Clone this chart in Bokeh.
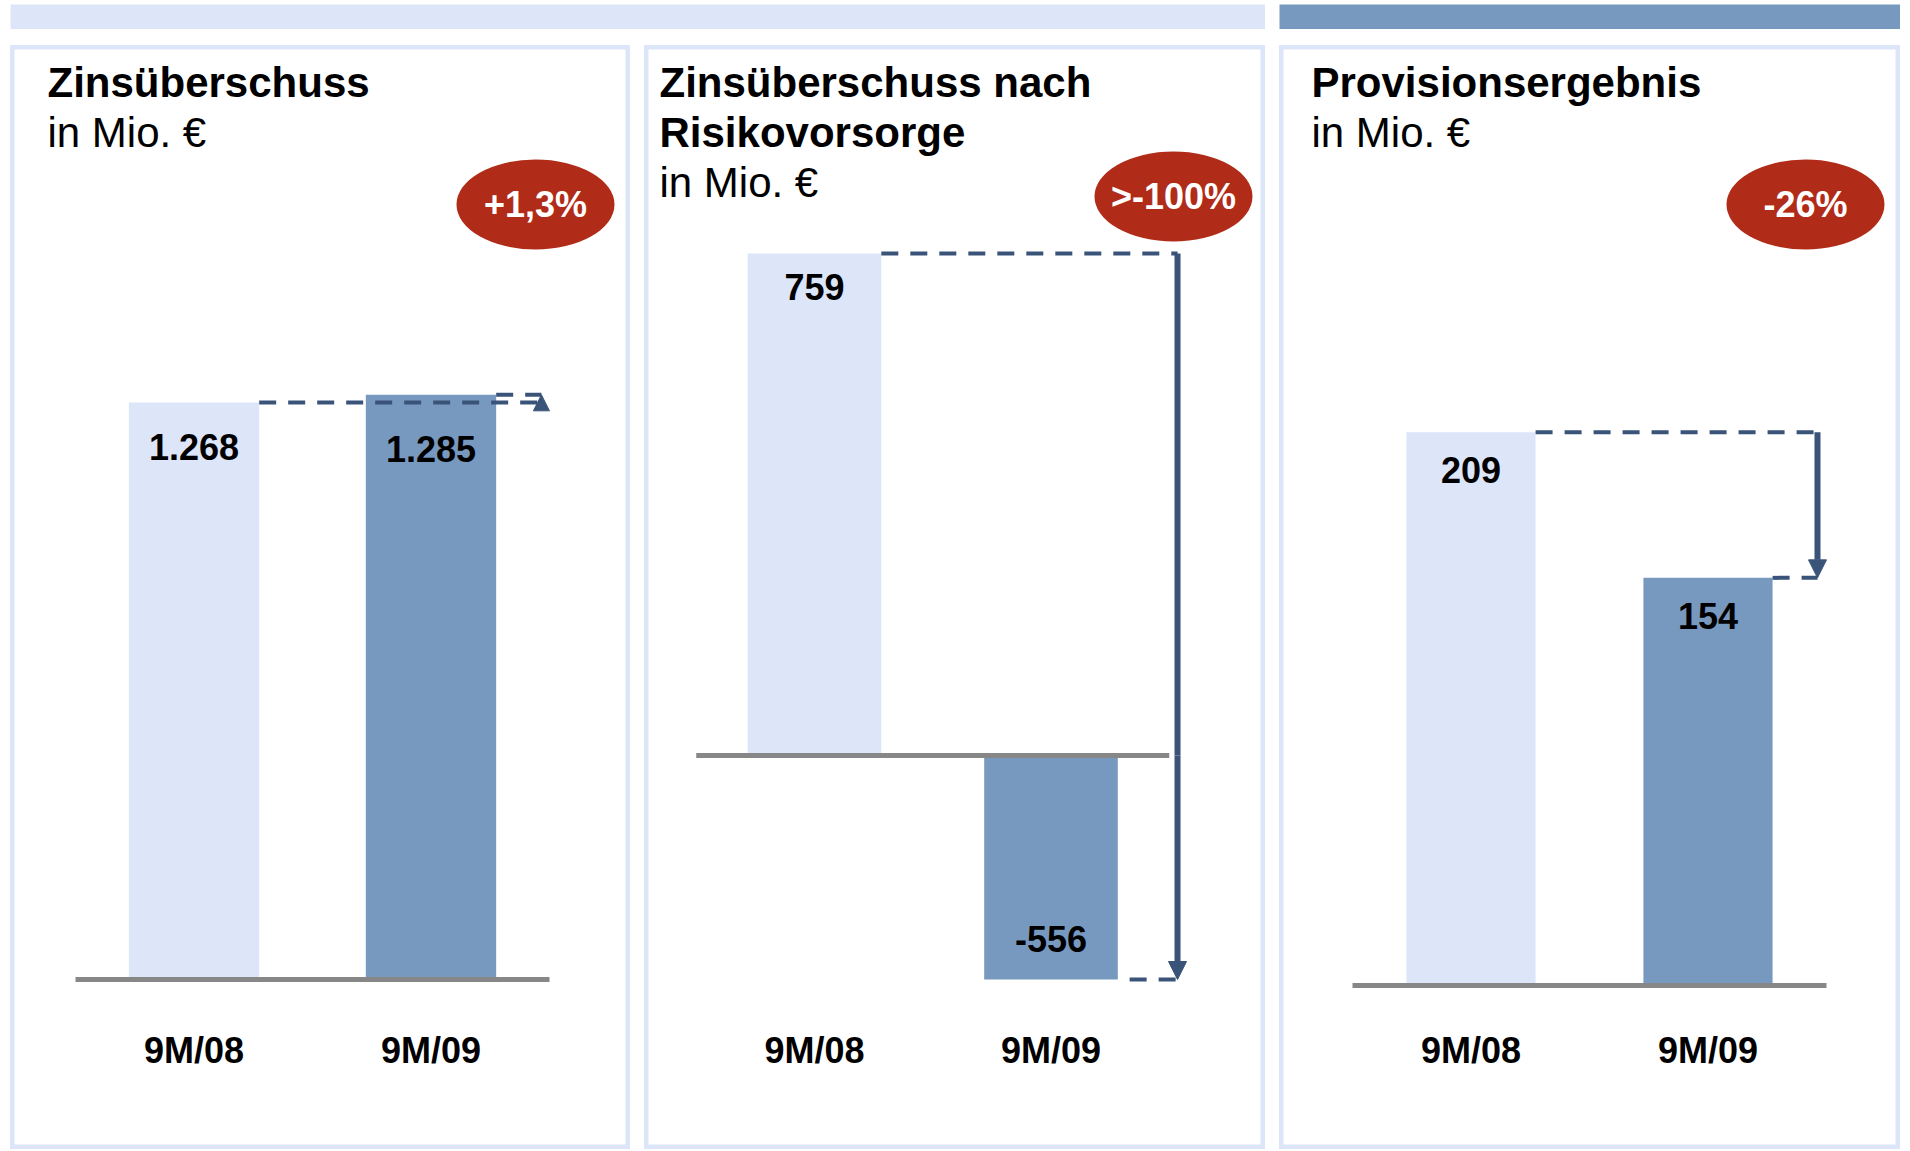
from bokeh.plotting import figure
from bokeh.layouts import row, column
from bokeh.models import Range1d, Arrow, NormalHead
from bokeh.core.properties import value
from bokeh.embed import file_html
from bokeh.resources import INLINE
from bokeh.core.validation import silence
from bokeh.core.validation.warnings import MISSING_RENDERERS

silence(MISSING_RENDERERS, True)

# ---------------- data ----------------
categories = ["9M/08", "9M/09"]
titles_1 = ["Zinsüberschuss"]
titles_2 = ["Zinsüberschuss nach", "Risikovorsorge"]
titles_3 = ["Provisionsergebnis"]
unit_label = "in Mio. €"
zinsueberschuss = [1268, 1285]
zins_nach_risiko = [759, -556]
provisionsergebnis = [209, 154]
changes = ["+1,3%", ">-100%", "-26%"]

# ---------------- style ----------------
H = 1104
LIGHT = "#dde5f8"
DARK = "#7899bf"
BLUE = "#3a5378"
GRAY = "#878787"
RED = "#b12b19"
FONT = value("Liberation Sans")
BAR_COLORS = [LIGHT, DARK]
DASH = "17 12"


def fmt(v):
    return f"{v:,}".replace(",", ".")


def make_panel(W, x0, step, zero_top, ppu, ppu_neg=None):
    xs = -x0 / step
    xr = Range1d(xs, xs + W / step)
    ys = -(H - zero_top) / ppu
    yr = Range1d(ys, ys + H / ppu)
    p = figure(width=W, height=H, x_range=xr, y_range=yr,
               x_axis_type=None, y_axis_type=None, toolbar_location=None,
               output_backend="svg", min_border=0,
               outline_line_color=LIGHT, outline_line_width=8,
               background_fill_color="white", border_fill_color="white")
    if ppu_neg is not None:
        ns = -(H - zero_top) / ppu_neg
        p.extra_y_ranges = {"neg": Range1d(ns, ns + H / ppu_neg)}

    def X(px):
        return xs + px / step

    def Y(py):
        return yr.end - py / ppu

    return p, X, Y


def add_titles(p, X, Y, lines, x_px):
    for i, t in enumerate(lines + [unit_label]):
        p.text(x=[X(x_px)], y=[Y(37 + 50 * i)], text=[t], text_font=FONT,
               text_font_style="bold" if i < len(lines) else "normal",
               text_font_size="42px", text_color="black",
               text_align="left", text_baseline="middle")


def add_badge(p, X, Y, cx, cy, label):
    p.ellipse(x=[X(cx)], y=[Y(cy)], width=158, height=90,
              width_units="screen", height_units="screen",
              fill_color=RED, line_color=None)
    p.text(x=[X(cx)], y=[Y(cy)], text=[label], text_font=FONT,
           text_font_style="bold", text_font_size="36px", text_color="white",
           text_align="center", text_baseline="middle")


def add_categories(p, X, Y):
    idx = list(range(len(categories)))
    p.text(x=idx, y=[Y(1005)] * len(idx), text=categories, text_font=FONT,
           text_font_style="bold", text_font_size="36px", text_color="black",
           text_align="center", text_baseline="middle")


def value_label(p, i, v, off, range_name="default"):
    p.text(x=[i], y=[v], text=[fmt(v)], y_offset=off, text_font=FONT,
           text_font_style="bold", text_font_size="36px", text_color="black",
           text_align="center", text_baseline="middle", y_range_name=range_name)


def dashed(p, x0, x1, y, range_name="default"):
    p.segment(x0=[x0], x1=[x1], y0=[y], y1=[y], line_color=BLUE, line_width=4,
              line_dash=DASH, y_range_name=range_name)


def arrow(x, y0, y1, range_name="default"):
    return Arrow(x_start=x, y_start=y0, x_end=x, y_end=y1, y_range_name=range_name,
                 line_color=BLUE, line_width=6,
                 end=NormalHead(size=18, fill_color=BLUE, line_color=BLUE, line_width=1))


def baseline(p):
    n = len(categories)
    p.segment(x0=[-0.5], x1=[n - 0.5], y0=[0], y1=[0], line_color=GRAY, line_width=5)


# ---------------- panel 1 ----------------
p1, X1, Y1 = make_panel(620, 183.5, 237, 934, 0.455)
bw1 = 0.55
p1.vbar(x=list(range(2)), top=zinsueberschuss, bottom=0, width=bw1,
        fill_color=BAR_COLORS, line_color=None)
baseline(p1)
ax1 = 1.466
dashed(p1, 0 + bw1 / 2, ax1, zinsueberschuss[0])
dashed(p1, 1 + bw1 / 2, ax1, zinsueberschuss[1])
p1.add_layout(Arrow(x_start=ax1, y_start=zinsueberschuss[0], x_end=ax1, y_end=zinsueberschuss[1],
                    line_color=BLUE, line_width=4,
                    end=NormalHead(size=16, fill_color=BLUE, line_color=BLUE, line_width=1)))
for i, (v, off) in enumerate(zip(zinsueberschuss, [44, 54])):
    value_label(p1, i, v, off)
add_categories(p1, X1, Y1)
add_titles(p1, X1, Y1, titles_1, 37)
add_badge(p1, X1, Y1, 525, 159, changes[0])

# ---------------- panel 2 ----------------
p2, X2, Y2 = make_panel(621, 170, 236.5, 710, 0.6614, ppu_neg=0.4029)
bw2 = 0.565
p2.vbar(x=[0], top=[zins_nach_risiko[0]], bottom=0, width=bw2,
        fill_color=BAR_COLORS[0], line_color=None)
p2.vbar(x=[1], top=[zins_nach_risiko[1]], bottom=0, width=bw2,
        fill_color=BAR_COLORS[1], line_color=None, y_range_name="neg")
baseline(p2)
ax2 = 1.535
dashed(p2, 0 + bw2 / 2, ax2, zins_nach_risiko[0])
dashed(p2, 1 + bw2 / 2 + 0.05, ax2, zins_nach_risiko[1], "neg")
p2.segment(x0=[ax2], x1=[ax2], y0=[zins_nach_risiko[0]], y1=[0], line_color=BLUE, line_width=6)
p2.add_layout(arrow(ax2, 0, zins_nach_risiko[1], "neg"))
value_label(p2, 0, zins_nach_risiko[0], 34)
value_label(p2, 1, zins_nach_risiko[1], -41, "neg")
add_categories(p2, X2, Y2)
add_titles(p2, X2, Y2, titles_2, 15)
add_badge(p2, X2, Y2, 529, 151, changes[1])

# ---------------- panel 3 ----------------
p3, X3, Y3 = make_panel(621, 191.5, 237, 940, 2.647)
bw3 = 0.545
p3.vbar(x=list(range(2)), top=provisionsergebnis, bottom=0, width=bw3,
        fill_color=BAR_COLORS, line_color=None)
baseline(p3)
ax3 = 1.462
dashed(p3, 0 + bw3 / 2, ax3, provisionsergebnis[0])
dashed(p3, 1 + bw3 / 2, ax3, provisionsergebnis[1])
p3.add_layout(arrow(ax3, provisionsergebnis[0], provisionsergebnis[1]))
for i, v in enumerate(provisionsergebnis):
    value_label(p3, i, v, 38)
add_categories(p3, X3, Y3)
add_titles(p3, X3, Y3, titles_3, 32)
add_badge(p3, X3, Y3, 526, 159, changes[2])

# ---------------- top bands ----------------
def band(W, color):
    return figure(width=W, height=25, x_axis_type=None, y_axis_type=None,
                  toolbar_location=None, output_backend="svg", min_border=0,
                  outline_line_color=None, background_fill_color=color,
                  border_fill_color=color)


bands = row(band(1255, LIGHT), band(621, DARK), spacing=14)
panels = row(p1, p2, p3, spacing=14)
layout = column(bands, panels, spacing=16, margin=(4, 0, 0, 10))

open("out.html", "w").write(file_html(layout, INLINE))
